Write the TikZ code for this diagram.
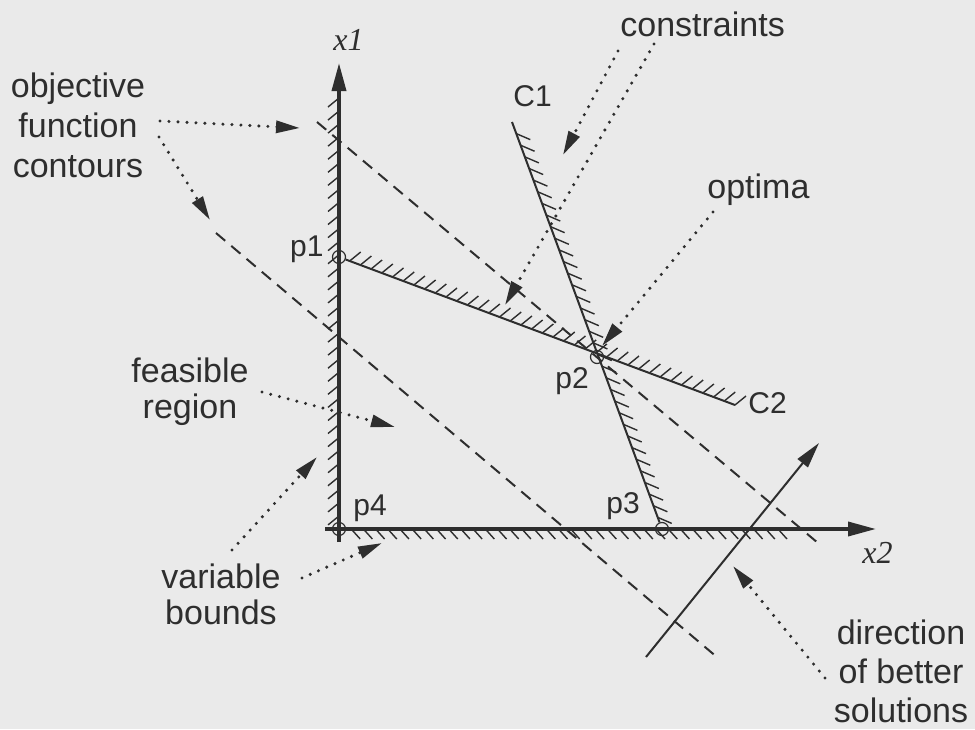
\documentclass[tikz,border=0pt]{standalone}
\usepackage{fontspec}
\setmainfont{Liberation Sans}
\newfontfamily\varfont{Liberation Serif}
\usetikzlibrary{arrows.meta,calc}
\definecolor{lpPaper}{HTML}{EAEAEA}
\definecolor{lpInk}{HTML}{2E2E2E}

\begin{document}
\begin{tikzpicture}[
  x=.5pt,y=-.5pt,
  ann/.style={font=\fontsize{17}{20}\selectfont,color=lpInk,align=center,inner sep=0pt},
  lab/.style={font=\fontsize{15}{18}\selectfont,color=lpInk,inner sep=0pt},
  var/.style={font=\fontsize{16}{18}\varfont\itshape,color=lpInk,inner sep=0pt},
  corner/.style={circle,draw=lpInk,line width=.6pt,inner sep=0pt,minimum size=6.5pt},
  axis/.style={draw=lpInk,line width=1.8pt,-{Triangle[length=14pt,width=7pt]}},
  bound/.style={draw=lpInk,line width=1pt},
  hatch/.style={draw=lpInk,line width=.7pt},
  contour/.style={draw=lpInk,line width=1pt,dash pattern=on 6pt off 4pt},
  better/.style={draw=lpInk,line width=1pt,-{Triangle[length=13pt,width=6.5pt]}},
  pointer/.style={draw=lpInk,line width=1.7pt,line cap=round,dash pattern=on 0pt off 4.5pt,
    -{Triangle[length=12pt,width=6pt]}}
]
  \useasboundingbox (0,0) rectangle (975,729);
  \fill[lpPaper] (0,0) rectangle (975,729);

  % corner points and line ends
  \coordinate (o) at (339,529);
  \node[corner] (p1) at (339,257) {};
  \node[corner] (p2) at (597,357) {};
  \node[corner] (p3) at (662,529) {};
  \node[corner] (p4) at (o) {};
  \coordinate (x1tip) at (339,63);
  \coordinate (x1foot) at (339,542);
  \coordinate (x1hatch) at (339,98);
  \coordinate (x2tip) at (876,529);
  \coordinate (x2foot) at (325,529);
  \coordinate (x2hatch) at (778,529);
  \coordinate (c1top) at (512,122);
  \coordinate (c2end) at (735,405);
  \coordinate (k1a) at (317,122);
  \coordinate (k1b) at (818,543);
  \coordinate (k2a) at (216,233);
  \coordinate (k2b) at (718,658);
  \coordinate (dira) at (646,657);
  \coordinate (dirb) at (819,443);

  % objective function contours
  \draw[contour] (k1a) -- (k1b);
  \draw[contour] (k2a) -- (k2b);

  % constraints
  \draw[bound] (c1top) -- (p3);
  \foreach \i in {1,...,34}
    \draw[hatch] ($(c1top)!\i/35!(p3)$) -- ++(14,6);
  \draw[bound] (p1) -- (c2end);
  \foreach \i in {1,...,37}
    \draw[hatch] ($(p1)!\i/37!(c2end)$) -- ++(11,-9);

  % variable bounds
  \foreach \i in {0,...,32}
    \draw[hatch] ($(x1hatch)!\i/33!(o)$) -- ++(-11,9);
  \foreach \i in {1,...,36}
    \draw[hatch] ($(o)!\i/36!(x2hatch)$) -- ++(9,10);
  \draw[axis] (x1foot) -- (x1tip);
  \draw[axis] (x2foot) -- (x2tip);

  % direction of better solutions
  \draw[better] (dira) -- (dirb);

  % labels
  \node[var,anchor=base west] (x1lab) at (333,50) {x1};
  \node[var,anchor=base west] (x2lab) at (862,563) {x2};
  \node[lab,anchor=base east] (p1lab) at (324,256) {p1};
  \node[lab,anchor=base west] (p2lab) at (555,388) {p2};
  \node[lab,anchor=base west] (p3lab) at (606,513) {p3};
  \node[lab,anchor=base west] (p4lab) at (353,515) {p4};
  \node[lab,anchor=base west] (c1lab) at (513,106) {C1};
  \node[lab,anchor=base west] (c2lab) at (748,413) {C2};

  \node[ann,anchor=north] (objtxt) at (78,72) {objective\\function\\contours};
  \node[ann,anchor=base west] (constxt) at (620,36) {constraints};
  \node[ann,anchor=base west] (opttxt) at (707,198) {optima};
  \node[ann,font=\fontsize{17}{18}\selectfont,anchor=north] (feastxt) at (190,357) {feasible\\region};
  \node[ann,font=\fontsize{17}{18}\selectfont,anchor=north] (vartxt) at (221,563) {variable\\bounds};
  \node[ann,font=\fontsize{17}{19.5}\selectfont,anchor=north] (dirtxt) at (901,619) {direction\\of better\\solutions};

  % dotted pointers
  \coordinate (objA) at (160,121);
  \coordinate (objAt) at (300,128);
  \coordinate (objB) at (159,137);
  \coordinate (objBt) at (210,220);
  \coordinate (consA) at (618,51);
  \coordinate (consAt) at (563,155);
  \coordinate (consB) at (654,44);
  \coordinate (consBt) at (505,305);
  \coordinate (optA) at (713,212);
  \coordinate (optAt) at (602,346);
  \coordinate (feasA) at (262,392);
  \coordinate (feasAt) at (395,427);
  \coordinate (varA) at (232,550);
  \coordinate (varAt) at (317,457);
  \coordinate (varB) at (302,578);
  \coordinate (varBt) at (382,543);
  \coordinate (dirA) at (825,678);
  \coordinate (dirAt) at (733,566);
  \draw[pointer] (objA) -- (objAt);
  \draw[pointer] (objB) -- (objBt);
  \draw[pointer] (consA) -- (consAt);
  \draw[pointer] (consB) -- (consBt);
  \draw[pointer] (optA) -- (optAt);
  \draw[pointer] (feasA) -- (feasAt);
  \draw[pointer] (varA) -- (varAt);
  \draw[pointer] (varB) -- (varBt);
  \draw[pointer] (dirA) -- (dirAt);
\end{tikzpicture}
\end{document}
